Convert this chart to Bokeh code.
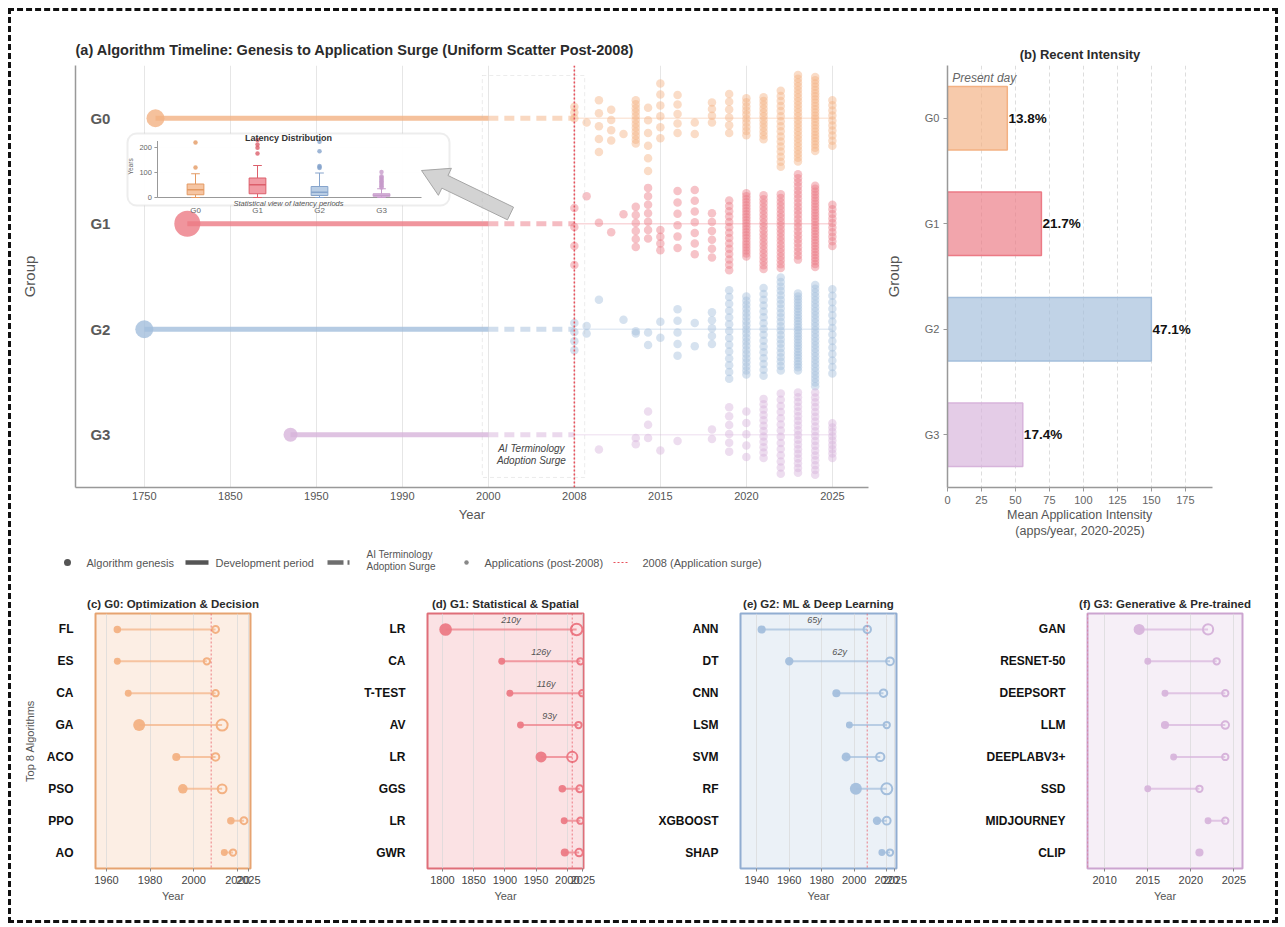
import numpy as np
from bokeh.plotting import figure
from bokeh.layouts import column, row
from bokeh.models import Range1d, FixedTicker, Span, BoxAnnotation, Label
from bokeh.core.properties import value
from bokeh.embed import file_html
from bokeh.resources import INLINE

FONT = "Liberation Sans"

# ---------------- data ----------------
groups = ["G0", "G1", "G2", "G3"]
genesis_year = [1763, 1800, 1750, 1920]
group_n_algorithms = [40, 80, 40, 20]
axis_years = [1750, 1850, 1950, 1990, 2000, 2008, 2015, 2020, 2025]

# applications per year (post-2008) and vertical jitter span of each column
app_years = list(range(2008, 2026))
app_counts_G0 = [3, 1, 5, 4, 1, 12, 6, 6, 5, 2, 4, 6, 10, 12, 16, 24, 24, 10]
app_lo_G0 = [-0.11, 0.04, -0.17, -0.08, 0.15, -0.17, -0.10, -0.33, -0.22, 0.04, -0.15, -0.23, -0.19, -0.20, -0.26, -0.41, -0.39, -0.17]
app_hi_G0 = [0.0, 0.04, 0.32, 0.21, 0.15, 0.24, 0.50, 0.19, 0.14, 0.15, 0.04, 0.14, 0.16, 0.20, 0.46, 0.41, 0.31, 0.26]
app_counts_G1 = [4, 1, 1, 1, 1, 6, 7, 4, 6, 7, 6, 14, 22, 20, 20, 22, 28, 10]
app_lo_G1 = [-0.15, -0.26, -0.01, 0.08, -0.09, -0.16, -0.34, 0.06, -0.31, -0.32, -0.10, -0.22, -0.29, -0.27, -0.28, -0.47, -0.36, -0.18]
app_hi_G1 = [0.39, -0.26, -0.01, 0.08, -0.09, 0.22, 0.14, 0.25, 0.23, 0.29, 0.32, 0.44, 0.31, 0.43, 0.42, 0.34, 0.41, 0.21]
app_counts_G2 = [4, 2, 1, 0, 1, 2, 2, 2, 5, 2, 5, 14, 20, 16, 22, 26, 28, 14]
app_lo_G2 = [-0.06, -0.03, -0.28, 0, -0.09, 0.02, 0.03, -0.07, -0.19, -0.06, -0.16, -0.37, -0.31, -0.39, -0.49, -0.34, -0.42, -0.38]
app_hi_G2 = [0.20, 0.04, -0.28, 0, -0.09, 0.04, 0.15, 0.08, 0.25, 0.16, 0.14, 0.47, 0.43, 0.44, 0.39, 0.39, 0.54, 0.42]
app_counts_G3 = [0, 0, 1, 0, 0, 2, 3, 1, 1, 0, 2, 6, 5, 12, 14, 18, 18, 9]
app_lo_G3 = [0, 0, 0.14, 0, 0, 0.03, -0.22, 0.15, 0.06, 0, -0.05, -0.26, -0.22, -0.34, -0.39, -0.40, -0.40, -0.11]
app_hi_G3 = [0, 0, 0.14, 0, 0, 0.09, 0.03, 0.15, 0.06, 0, 0.04, 0.16, 0.21, 0.22, 0.37, 0.36, 0.38, 0.22]

# panel b
intensity = [44.0, 69.1, 150.0, 55.4]

# inset: latency distribution (years)
lat_lo = [0, 0, 0, 0]
lat_q1 = [11, 15, 8, 5]
lat_med = [31, 51, 21, 9]
lat_q3 = [54, 78, 44, 15]
lat_hi = [95, 128, 98, 35]
lat_outliers = [[120, 220], [176, 199, 212, 230], [118, 122, 126, 185, 223],
                [40, 45, 50, 55, 60, 65, 70, 75, 80, 85, 102]]

# panels c-f
c_names = ["FL", "ES", "CA", "GA", "ACO", "PSO", "PPO", "AO"]
c_genesis = [1965, 1965, 1970, 1975, 1992, 1995, 2017, 2014]
c_first = [2010, 2006, 2010, 2013, 2010, 2013, 2023, 2018]
c_apps = [5, 3, 3, 20, 7, 12, 5, 3]

d_names = ["LR", "CA", "T-TEST", "AV", "LR", "GGS", "LR", "GWR"]
d_genesis = [1805, 1895, 1908, 1925, 1958, 1992, 1995, 1996]
d_first = [2015, 2021, 2024, 2018, 2008, 2020, 2021, 2019]
d_apps = [22, 3, 3, 3, 17, 5, 3, 7]

e_names = ["ANN", "DT", "CNN", "LSM", "SVM", "RF", "XGBOOST", "SHAP"]
e_genesis = [1943, 1960, 1989, 1997, 1995, 2001, 2014, 2017]
e_first = [2008, 2022, 2018, 2020, 2016, 2020, 2020, 2022]
e_apps = [7, 8, 7, 3, 10, 20, 8, 3]

f_names = ["GAN", "RESNET-50", "DEEPSORT", "LLM", "DEEPLABV3+", "SSD", "MIDJOURNEY", "CLIP"]
f_genesis = [2014, 2015, 2017, 2017, 2018, 2015, 2022, 2021]
f_first = [2022, 2023, 2024, 2024, 2024, 2021, 2024, None]
f_apps = [17, 3, 3, 7, 3, 3, 3, 7]

# ---------------- style ----------------
group_colors = ["#F3B183", "#EC7A85", "#A3BEDC", "#D7B4DB"]
group_dark = ["#E39A63", "#DC5F6B", "#86A4CC", "#C79BCB"]
SURGE = "#E8505B"
GRAYTXT = "#555555"


def xpos(year):
    return np.interp(year, axis_years, np.arange(len(axis_years)))


def style_axis(ax, size="11px", color=GRAYTXT):
    ax.major_label_text_font = FONT
    ax.major_label_text_font_size = size
    ax.major_label_text_color = color
    ax.axis_label_text_font = FONT
    ax.axis_label_text_font_style = "normal"
    ax.axis_label_text_color = GRAYTXT
    ax.minor_tick_line_color = None


def set_title(p, text, size, align, standoff):
    p.title.text = text
    p.title.text_font = FONT
    p.title.text_font_size = size
    p.title.text_font_style = "bold"
    p.title.text_color = "#2b2b2b"
    p.title.align = align
    p.title.standoff = standoff


# ================= panel (a) =================
FL_, FR_, FT_, FB_ = 75, 868, 65, 487   # frame edges (page px)
pa = figure(width=869, height=532, x_range=Range1d(-0.8, 8.42), y_range=Range1d(3.5, -0.5),
            output_backend="svg", toolbar_location=None,
            min_border_left=64, min_border_right=12, min_border_top=54, min_border_bottom=56)
set_title(pa, "(a) Algorithm Timeline: Genesis to Application Surge (Uniform Scatter Post-2008)",
          "14.5px", "left", 15)
pa.outline_line_color = None
pa.ygrid.grid_line_color = None
pa.xgrid.ticker = FixedTicker(ticks=list(range(len(axis_years))))
pa.xgrid.grid_line_color = "#e6e6e6"
pa.xaxis.ticker = FixedTicker(ticks=list(range(len(axis_years))))
pa.xaxis.major_label_overrides = {i: str(y) for i, y in enumerate(axis_years)}
pa.xaxis.axis_label = "Year"
pa.yaxis.ticker = FixedTicker(ticks=[])
pa.yaxis.axis_label = "Group"
for ax in (pa.xaxis[0], pa.yaxis[0]):
    style_axis(ax)
    ax.axis_line_color = "#999999"
    ax.axis_line_width = 1.5
    ax.major_tick_line_color = None
    ax.major_tick_out = 0
pa.xaxis.major_label_standoff = 4
pa.xaxis.axis_label_standoff = 4
pa.xaxis.axis_label_text_font_size = "13px"
pa.yaxis.axis_label_text_font_size = "15px"
pa.yaxis.axis_label_standoff = 38

gidx = list(range(4))
gx = xpos(genesis_year)
# development period, surge period, application era
pa.segment(x0=gx, y0=gidx, x1=[xpos(2000)] * 4, y1=gidx, line_color=group_colors,
           line_width=5, line_alpha=0.8, line_cap="butt")
pa.segment(x0=[xpos(2000)] * 4, y0=gidx, x1=[xpos(2008)] * 4, y1=gidx, line_color=group_colors,
           line_width=5, line_alpha=0.5, line_dash="10 6", line_cap="butt")
pa.segment(x0=[xpos(2008)] * 4, y0=gidx, x1=[xpos(2025)] * 4, y1=gidx, line_color=group_colors,
           line_width=1.5, line_alpha=0.3)

# application scatter
counts = [app_counts_G0, app_counts_G1, app_counts_G2, app_counts_G3]
los = [app_lo_G0, app_lo_G1, app_lo_G2, app_lo_G3]
his = [app_hi_G0, app_hi_G1, app_hi_G2, app_hi_G3]
sx, sy, sc = [], [], []
for gi in range(4):
    for yr, n, a, b in zip(app_years, counts[gi], los[gi], his[gi]):
        if n == 0:
            continue
        offs = [a] if n == 1 else np.linspace(a, b, n)
        for o in offs:
            sx.append(float(xpos(yr)))
            sy.append(gi + float(o))
            sc.append(group_colors[gi])
pa.scatter(x=sx, y=sy, size=8.5, fill_color=sc, fill_alpha=0.45, line_color=None)

# genesis markers
pa.scatter(x=gx, y=gidx, size=[10 + 0.2 * n for n in group_n_algorithms],
           fill_color=group_colors, fill_alpha=0.8, line_color=None)

# group labels
pa.text(x=[-0.51] * 4, y=gidx, text=groups, text_font=value(FONT), text_font_size="15px",
        text_font_style="bold", text_color="#5a5a5a", text_align="center", text_baseline="middle")

# surge region and 2008 line
pa.add_layout(BoxAnnotation(left=xpos(2000) - 0.07, right=xpos(2008) + 0.12, top=-0.405, bottom=3.405,
                            fill_alpha=0, line_color="#bdbdbd", line_dash="4 3", line_width=1))
pa.add_layout(Span(location=xpos(2008), dimension="height", line_color=SURGE,
                   line_dash="2 2", line_width=1.6))
for yy, tt in ((3.13, "AI Terminology"), (3.245, "Adoption Surge")):
    pa.add_layout(Label(x=4.5, y=yy, text=tt, text_font=FONT, text_font_size="10px",
                        text_font_style="italic", text_color="#444444",
                        text_align="center", text_baseline="middle"))

# ---- inset (own scales) ----
IX0, IXU, IY0, IYU = 195, 62.0, 197, 0.25   # page px of cat 0 / px per cat, px of 0 yrs / px per yr
pa.extra_x_ranges = {"ix": Range1d((FL_ - IX0) / IXU, (FR_ - IX0) / IXU)}
pa.extra_y_ranges = {"iy": Range1d((IY0 - FB_) / IYU, (IY0 - FT_) / IYU)}


def ixp(px):
    return (px - IX0) / IXU


def iyp(py):
    return (IY0 - py) / IYU


R = dict(x_range_name="ix", y_range_name="iy")
pa.add_layout(BoxAnnotation(left=ixp(127), right=ixp(449), top=iyp(133), bottom=iyp(205),
                            fill_color="white", fill_alpha=0.93, line_color="#c4c4c4",
                            line_width=2, border_radius=9, level="underlay", **R))
bx = list(range(4))
ax_left = ixp(157)
pa.segment(x0=[ax_left], y0=[0], x1=[ax_left], y1=[226], line_color="#999999", line_width=1, **R)
pa.segment(x0=[ax_left], y0=[0], x1=[ixp(421)], y1=[0], line_color="#999999", line_width=1, **R)
pa.segment(x0=[ax_left - 0.05] * 3, y0=[0, 100, 200], x1=[ax_left] * 3, y1=[0, 100, 200],
           line_color="#999999", line_width=1, **R)
pa.segment(x0=[ax_left] * 2, y0=[100, 200], x1=[ixp(421)] * 2, y1=[100, 200],
           line_color="#f0f0f0", line_width=1, level="underlay", **R)
pa.text(x=[ax_left - 0.09] * 3, y=[0, 100, 200], text=["0", "100", "200"], text_font=value(FONT),
        text_font_size="7.5px", text_color="#666666", text_align="right", text_baseline="middle", **R)
pa.text(x=[ixp(130)], y=[iyp(166)], text=["Years"], angle=np.pi / 2, text_font=value(FONT),
        text_font_size="6.5px", text_color="#666666", text_align="center", text_baseline="middle", **R)
pa.segment(x0=bx, y0=lat_lo, x1=bx, y1=lat_q1, line_color=group_dark, line_width=1, **R)
pa.segment(x0=bx, y0=lat_q3, x1=bx, y1=lat_hi, line_color=group_dark, line_width=1, **R)
pa.segment(x0=[b - 0.07 for b in bx], y0=lat_hi, x1=[b + 0.07 for b in bx], y1=lat_hi,
           line_color=group_dark, line_width=1, **R)
pa.segment(x0=[b - 0.07 for b in bx], y0=lat_lo, x1=[b + 0.07 for b in bx], y1=lat_lo,
           line_color=group_dark, line_width=1, **R)
pa.vbar(x=bx, width=0.27, bottom=lat_q1, top=lat_q3, fill_color=group_colors, fill_alpha=0.75,
        line_color=group_dark, line_width=1, **R)
pa.segment(x0=[b - 0.135 for b in bx], y0=lat_med, x1=[b + 0.135 for b in bx], y1=lat_med,
           line_color=group_dark, line_width=1.5, **R)
ox, oy, oc = [], [], []
for gi, outs in enumerate(lat_outliers):
    for v in outs:
        ox.append(gi)
        oy.append(v)
        oc.append(group_dark[gi])
pa.scatter(x=ox, y=oy, size=4.5, fill_color=oc, fill_alpha=0.8, line_color=None, **R)
pa.text(x=bx, y=[iyp(210)] * 4, text=groups, text_font=value(FONT), text_font_size="8px",
        text_color="#666666", text_align="center", text_baseline="middle", **R)
pa.text(x=[ixp(288)], y=[iyp(137.5)], text=["Latency Distribution"], text_font=value(FONT),
        text_font_size="9px", text_font_style="bold", text_color="#333333",
        text_align="center", text_baseline="middle", **R)
pa.text(x=[ixp(288)], y=[iyp(203)], text=["Statistical view of latency periods"],
        text_font=value(FONT), text_font_size="7.5px", text_font_style="italic",
        text_color="#555555", text_align="center", text_baseline="middle", **R)

# block arrow pointing at the inset
tail = np.array([510.0, 213.0])
head = np.array([421.0, 170.0])
u = (head - tail) / np.linalg.norm(head - tail)
nrm = np.array([-u[1], u[0]])
base = head - u * 26
pts = [tail + nrm * 7, base + nrm * 7, base + nrm * 15, head, base - nrm * 15, base - nrm * 7, tail - nrm * 7]
pa.patch(x=[ixp(p[0]) for p in pts], y=[iyp(p[1]) for p in pts], fill_color="#d3d3d3",
         line_color="#a5a5a5", line_width=1, **R)

# ================= panel (b) =================
XMAX_B = max(intensity) * 1.3
pb = figure(width=395, height=532, x_range=Range1d(0, XMAX_B),
            y_range=Range1d(3.5, -0.5), output_backend="svg", toolbar_location=None,
            min_border_left=67, min_border_right=63, min_border_top=54, min_border_bottom=56)
set_title(pb, "(b) Recent Intensity", "13px", "center", 8)
pb.outline_line_color = None
pb.ygrid.grid_line_color = None
pb.xgrid.grid_line_color = "#dddddd"
pb.xgrid.grid_line_dash = "4 3"
pb.xaxis.ticker = FixedTicker(ticks=[0, 25, 50, 75, 100, 125, 150, 175])
pb.xgrid.ticker = FixedTicker(ticks=[25, 50, 75, 100, 125, 150, 175])
pb.yaxis.ticker = FixedTicker(ticks=gidx)
pb.yaxis.major_label_overrides = {i: g for i, g in enumerate(groups)}
pb.xaxis.axis_label = "Mean Application Intensity\n(apps/year, 2020-2025)"
pb.yaxis.axis_label = "Group"
for ax in (pb.xaxis[0], pb.yaxis[0]):
    style_axis(ax, color="#666666")
    ax.axis_line_color = "#999999"
    ax.axis_line_width = 1.5
    ax.major_tick_line_color = "#999999"
    ax.major_tick_out = 4
    ax.major_tick_in = 0
    ax.major_label_standoff = 4
pb.xaxis.axis_label_text_font_size = "12.5px"
pb.xaxis.axis_label_standoff = 1
pb.yaxis.axis_label_text_font_size = "15px"
pb.yaxis.axis_label_standoff = 20
pb.hbar(y=gidx, left=0, right=intensity, height=0.6, fill_color=group_colors, fill_alpha=0.68,
        line_color=group_colors, line_width=1.5)
total = sum(intensity)
pb.text(x=[v + 0.8 for v in intensity], y=gidx, text=[f"{100 * v / total:.1f}%" for v in intensity],
        text_font=value(FONT), text_font_size="13.5px", text_font_style="bold", text_color="#111111",
        text_align="left", text_baseline="middle")
pb.add_layout(Label(x=3.5, y=-0.385, text="Present day", text_font=FONT, text_font_size="12px",
                    text_font_style="italic", text_color="#666666", text_baseline="middle"))

# ================= legend row =================
pl = figure(width=1264, height=47, x_range=Range1d(0, 1264), y_range=Range1d(47, 0),
            output_backend="svg", toolbar_location=None, x_axis_location=None, y_axis_location=None,
            min_border=0)
pl.outline_line_color = None
pl.grid.grid_line_color = None
LY = 19
pl.scatter(x=[56], y=[LY], size=7, fill_color="#555555", line_color=None)
pl.segment(x0=[174], y0=[LY], x1=[197], y1=[LY], line_color="#555555", line_width=4.5)
pl.segment(x0=[316], y0=[LY], x1=[338], y1=[LY], line_color="#555555", line_width=4.5,
           line_dash="16 4", line_alpha=0.85)
pl.scatter(x=[455], y=[LY], size=4.5, fill_color="#888888", line_color=None)
pl.segment(x0=[602], y0=[LY], x1=[617], y1=[LY], line_color=SURGE, line_width=1.2, line_dash="2 2")
pl.text(x=[75, 204, 473, 631], y=[LY] * 4,
        text=["Algorithm genesis", "Development period", "Applications (post-2008)", "2008 (Application surge)"],
        text_font=value(FONT), text_font_size="11px", text_color=GRAYTXT, text_baseline="middle")
pl.text(x=[355, 355], y=[LY - 8, LY + 4], text=["AI Terminology", "Adoption Surge"],
        text_font=value(FONT), text_font_size="10px", text_color=GRAYTXT, text_baseline="middle")


# ================= panels (c)-(f) =================
def lollipop(names, gen, first, apps, title, gi, xr, ticks, width, bl, br, ylabel=None):
    col = group_colors[gi]
    p = figure(width=width, height=330, x_range=Range1d(*xr), y_range=Range1d(7.5, -0.5),
               output_backend="svg", toolbar_location=None,
               min_border_left=bl, min_border_right=br, min_border_top=23, min_border_bottom=52)
    set_title(p, title, "11.5px", "center", 7)
    p.background_fill_color = col
    p.background_fill_alpha = 0.22
    p.outline_line_color = group_dark[gi]
    p.outline_line_width = 2
    p.outline_line_alpha = 0.9
    p.ygrid.grid_line_color = None
    p.xgrid.ticker = FixedTicker(ticks=ticks)
    p.xgrid.grid_line_color = "#d9d9d9"
    p.xgrid.grid_line_alpha = 0.7
    idx = list(range(len(names)))
    p.yaxis.ticker = FixedTicker(ticks=idx)
    p.yaxis.major_label_overrides = {i: n for i, n in enumerate(names)}
    p.xaxis.ticker = FixedTicker(ticks=ticks)
    p.xaxis.axis_label = "Year"
    style_axis(p.xaxis[0], size="11px", color="#444444")
    style_axis(p.yaxis[0], size="12px", color="#111111")
    p.yaxis.major_label_text_font_style = "bold"
    p.yaxis.axis_line_color = None
    p.yaxis.major_tick_line_color = None
    p.yaxis.major_tick_out = 0
    p.yaxis.major_label_standoff = 22
    p.xaxis.axis_line_color = None
    p.xaxis.major_tick_line_color = "#888888"
    p.xaxis.major_tick_out = 3
    p.xaxis.major_tick_in = 0
    p.xaxis.major_label_standoff = 4
    p.xaxis.axis_label_text_font_size = "11px"
    p.xaxis.axis_label_standoff = 3
    if ylabel:
        p.yaxis.axis_label = ylabel
        p.yaxis.axis_label_text_font_size = "11px"
        p.yaxis.axis_label_standoff = 8
    p.add_layout(Span(location=2008, dimension="height", line_color=SURGE, line_alpha=0.6,
                      line_dash="2 2", line_width=1.2))
    fs = [6 + 0.3 * a for a in apps]
    has = [i for i in idx if first[i] is not None]
    p.segment(x0=[gen[i] for i in has], y0=has, x1=[first[i] for i in has], y1=has,
              line_color=col, line_width=2, line_alpha=0.7)
    p.scatter(x=gen, y=idx, size=fs, fill_color=col, fill_alpha=0.95, line_color=None)
    p.scatter(x=[first[i] for i in has], y=has, size=[0.92 * fs[i] for i in has], fill_color=None,
              line_color=col, line_width=2)
    lab = [i for i in has if first[i] - gen[i] > 60]
    p.text(x=[(gen[i] + first[i]) / 2 for i in lab], y=[i - 0.3 for i in lab],
           text=[f"{first[i] - gen[i]}y" for i in lab], text_font=value(FONT), text_font_size="9px",
           text_font_style="italic", text_color="#555555", text_align="center", text_baseline="middle")
    return p


pc = lollipop(c_names, c_genesis, c_first, c_apps, "(c) G0: Optimization & Decision", 0,
              (1955, 2026), [1960, 1980, 2000, 2020, 2025], 289, 84, 50, ylabel="Top 8 Algorithms")
pd_ = lollipop(d_names, d_genesis, d_first, d_apps, "(d) G1: Statistical & Spatial", 1,
               (1776, 2026), [1800, 1850, 1900, 1950, 2000, 2025], 320, 127, 37)
pe = lollipop(e_names, e_genesis, e_first, e_apps, "(e) G2: ML & Deep Learning", 2,
              (1930, 2026), [1940, 1960, 1980, 2000, 2020, 2025], 340, 120, 64)
pf = lollipop(f_names, f_genesis, f_first, f_apps, "(f) G3: Generative & Pre-trained", 3,
              (2008, 2026), [2010, 2015, 2020, 2025], 315, 127, 33)

layout = column(row(pa, pb), pl, row(pc, pd_, pe, pf),
                styles={"border": "3px dashed #111111", "background-color": "white",
                        "box-sizing": "content-box",
                        "margin-left": "8px", "margin-top": "8px"})

open("out.html", "w").write(file_html(layout, INLINE))
